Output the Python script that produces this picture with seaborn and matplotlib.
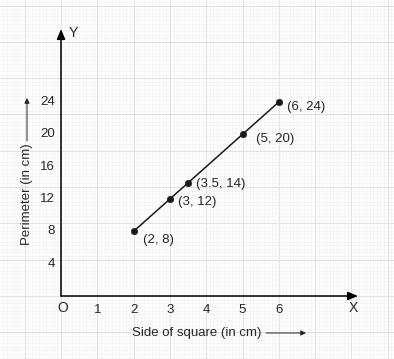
import numpy as np
import pandas as pd
import matplotlib
matplotlib.use("Agg")
import matplotlib.pyplot as plt
import seaborn as sns

# data
side = [2, 3, 3.5, 5, 6]
perimeter = [8, 12, 14, 20, 24]
point_labels = ["(2, 8)", "(3, 12)", "(3.5, 14)", "(5, 20)", "(6, 24)"]
x_ticks = [1, 2, 3, 4, 5, 6]
y_ticks = [4, 8, 12, 16, 20, 24]

W, H = 394, 359
X0, Y0 = 61, 296          # origin in pixels
PX_X = 36.3               # pixels per cm on x
PX_Y = 8.083              # pixels per cm on y
FS = 9.5


def fig_xy(px, py):
    return px / W, 1 - py / H


sns.set_style("white")
plt.rcParams["font.family"] = ["Liberation Sans", "DejaVu Sans"]

fig = plt.figure(figsize=(W / 100, H / 100), dpi=100)
ax = fig.add_axes([0, 0, 1, 1])
for s in ax.spines.values():
    s.set_visible(False)

df = pd.DataFrame({"side": side, "perimeter": perimeter})
sns.lineplot(data=df, x="side", y="perimeter", color="#1a1a1a", lw=1.1, ax=ax)
sns.scatterplot(data=df, x="side", y="perimeter", color="#1a1a1a", s=22,
                edgecolor="#1a1a1a", zorder=5, ax=ax)
ax.set_xlabel("")
ax.set_ylabel("")

# graph paper
gy = PX_X / PX_Y
ax.set_xticks(np.arange(-2, 10, 1.0))
ax.set_xticks(np.arange(-2, 10, 0.1), minor=True)
ax.set_yticks(np.arange(-2, 9) * gy)
ax.set_yticks(np.arange(-20, 90) * gy / 10, minor=True)
ax.grid(which="major", color="#e2e2e2", lw=0.8)
ax.grid(which="minor", color="#f0f0f0", lw=0.4)
ax.tick_params(which="both", length=0, labelbottom=False, labelleft=False)
ax.set_axisbelow(True)
ax.set_xlim(-X0 / PX_X, (W - X0) / PX_X)
ax.set_ylim(-(H - Y0) / PX_Y, Y0 / PX_Y)

# axes with arrows
ax.annotate("", xy=((358 - X0) / PX_X, 0), xytext=(0, 0),
            arrowprops=dict(arrowstyle="-|>,head_length=0.6,head_width=0.25",
                            color="black", lw=1.1, shrinkA=0, shrinkB=0))
ax.annotate("", xy=(0, (Y0 - 29) / PX_Y), xytext=(0, 0),
            arrowprops=dict(arrowstyle="-|>,head_length=0.6,head_width=0.25",
                            color="black", lw=1.1, shrinkA=0, shrinkB=0))

offsets = [(9, -9), (8, -3), (8, -1), (13, -5), (8, -5)]
for x, y, lab, (dx, dy) in zip(side, perimeter, point_labels, offsets):
    ax.annotate(lab, (x, y), xytext=(dx * 0.72, dy * 0.72),
                textcoords="offset points", ha="left", va="center",
                fontsize=FS)

for t in x_ticks:
    ax.text(t, -14 / PX_Y, str(t), ha="center", va="center", fontsize=FS)
for t in y_ticks:
    ax.text(-6 / PX_X, t, str(t), ha="right", va="center", fontsize=FS)
ax.text(2 / PX_X, -12 / PX_Y, "O", ha="center", va="center", fontsize=10)
fig.text(*fig_xy(353, 308), "X", ha="center", va="center", fontsize=10)
fig.text(*fig_xy(73, 33), "Y", ha="center", va="center", fontsize=10)

# axis titles with small arrows
fig.text(*fig_xy(197, 333), "Side of square (in cm)", ha="center",
         va="center", fontsize=FS)
fig.patches.append(matplotlib.patches.FancyArrowPatch(
    fig_xy(266, 333), fig_xy(306, 333), transform=fig.transFigure,
    arrowstyle="-|>,head_length=3,head_width=1.5", color="#222222", lw=0.7,
    shrinkA=0, shrinkB=0))
fig.text(*fig_xy(27, 194), "Perimeter (in cm)", ha="center", va="center",
         rotation=90, fontsize=FS)
fig.patches.append(matplotlib.patches.FancyArrowPatch(
    fig_xy(27, 141), fig_xy(27, 98), transform=fig.transFigure,
    arrowstyle="-|>,head_length=3,head_width=1.5", color="#222222", lw=0.7,
    shrinkA=0, shrinkB=0))

fig.savefig("out.png", dpi=100)
